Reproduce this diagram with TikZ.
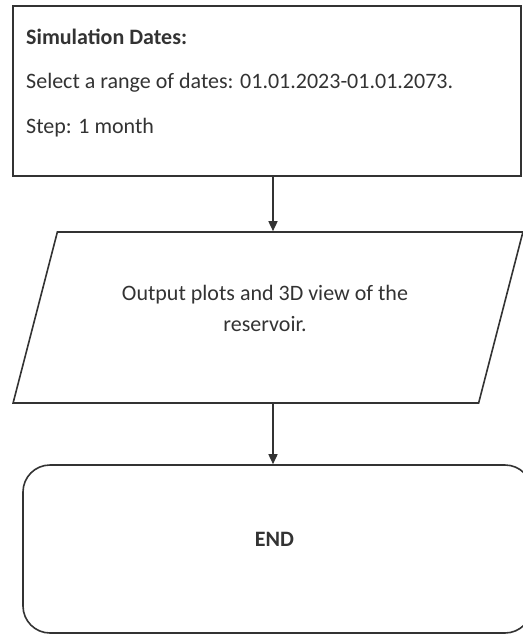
\documentclass[tikz,border=0pt]{standalone}
\usepackage{fontspec}
\setmainfont{Carlito}
\usetikzlibrary{shapes.geometric,arrows.meta}
\definecolor{ink}{HTML}{333333}
\tikzset{
  shape line/.style={draw=ink,line width=1.6pt},
  flow/.style={draw=ink,line width=1.6pt,-{Triangle[width=9pt,length=10pt]}},
  label text/.style={text=ink,inner sep=0pt,font=\fontsize{22}{44.5}\selectfont}
}
\begin{document}
\begin{tikzpicture}[x=1pt,y=-1pt]
  \useasboundingbox (0,0) rectangle (522,634);
  \node[shape line,rectangle,minimum width=508pt,minimum height=170pt] (dates) at (267,91) {};
  \node[label text,anchor=base west,align=left] (datestext) at (26,133)
    {\textbf{Simulation Dates:}\\Select a range of dates: 01.01.2023-01.01.2073.\\Step: 1 month};
  \node[shape line,trapezium,trapezium left angle=84,trapezium right angle=96,
        trapezium stretches,minimum width=510pt,minimum height=171pt] (output) at (268,317.5) {};
  \node[label text,anchor=base,align=center,font=\fontsize{22}{31}\selectfont] (outtext) at (265,331)
    {Output plots and 3D view of the\\reservoir.};
  \node[shape line,rectangle,rounded corners=27pt,minimum width=509pt,minimum height=168pt] (stop) at (277.5,549) {};
  \node[label text,anchor=base,font=\fontsize{22}{26}\selectfont\bfseries] (endtext) at (274.5,546) {END};
  \coordinate (axis) at (273,0);
  \draw[flow] (dates.south -| axis) -- (output.north -| axis);
  \draw[flow] (output.south -| axis) -- (stop.north -| axis);
\end{tikzpicture}
\end{document}
